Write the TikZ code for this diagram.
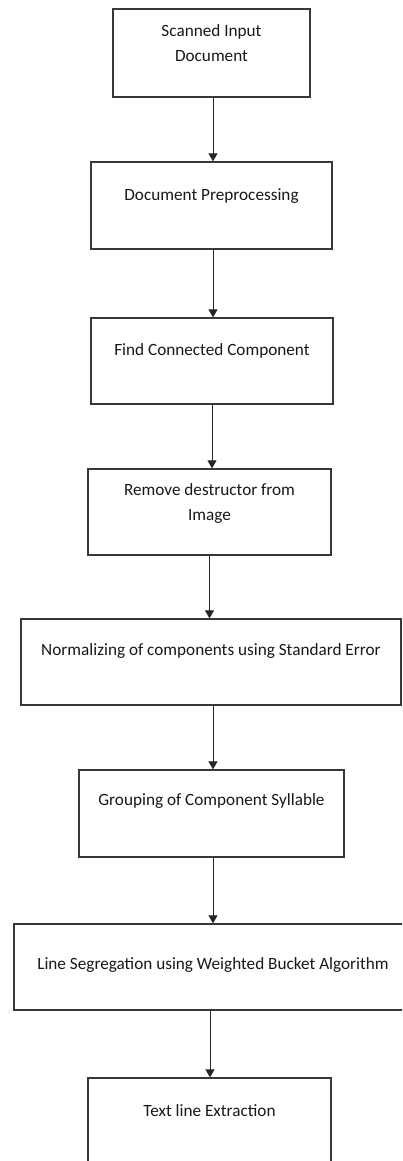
\documentclass[tikz,border=0pt]{standalone}
\usepackage{fontspec}
\setmainfont{Carlito}
\usetikzlibrary{arrows.meta}
\tikzset{
	stepbox/.style={draw=black!78, line width=1.3pt, inner sep=0pt, minimum width=#1, minimum height=86pt},
	steptext/.style={align=center, inner sep=0pt, font=\fontsize{17.2}{25}\selectfont, text=black!90},
	flow/.style={draw=black!85, line width=1pt, -{Triangle[width=9pt,length=8pt]}}
}

\begin{document}
\begin{tikzpicture}[x=1pt, y=-1pt]
		%%%%% START %%%%%
		
		\clip (0, 0) rectangle (402, 1161);
		\fill[white] (0, 0) rectangle (402, 1161);
		
		\node[stepbox=197pt, minimum height=88pt] (scan) at (211.5, 53) {};
		\node[steptext] (scan-t) at ([yshift=-35pt]scan.north) {Scanned Input\\Document};
		
		\node[stepbox=241pt, minimum height=87pt] (prep) at (211.5, 205.5) {};
		\node[steptext] (prep-t) at ([yshift=-35pt]prep.north) {Document Preprocessing};
		
		\node[stepbox=242pt] (conn) at (212, 361) {};
		\node[steptext] (conn-t) at ([yshift=-34pt]conn.north) {Find Connected Component};
		
		\node[stepbox=243pt] (dest) at (209.5, 512) {};
		\node[steptext] (dest-t) at ([yshift=-35pt]dest.north) {Remove destructor from\\Image};
		
		\node[stepbox=380pt] (norm) at (211, 662) {};
		\node[steptext] (norm-t) at ([yshift=-33pt]norm.north) {Normalizing of components using Standard Error};
		
		\node[stepbox=265pt, minimum height=87pt] (group) at (211.5, 813.5) {};
		\node[steptext] (group-t) at ([yshift=-32pt]group.north) {Grouping of Component Syllable};
		
		\node[stepbox=398pt] (seg) at (213, 967) {};
		\node[steptext] (seg-t) at ([yshift=-42pt]seg.north) {Line Segregation using Weighted Bucket Algorithm};
		
		\node[stepbox=243pt] (ext) at (209.5, 1121) {};
		\node[steptext] (ext-t) at ([yshift=-33pt]ext.north) {Text line Extraction};
		
		\draw[flow] ([xshift=1.5pt]scan.south) -- ([xshift=1.5pt]scan.south |- prep.north);
		\draw[flow] ([xshift=1.5pt]prep.south) -- ([xshift=1.5pt]prep.south |- conn.north);
		\draw[flow] (conn.south) -- (conn.south |- dest.north);
		\draw[flow] (dest.south) -- (dest.south |- norm.north);
		\draw[flow] ([xshift=2pt]norm.south) -- ([xshift=2pt]norm.south |- group.north);
		\draw[flow] ([xshift=1.5pt]group.south) -- ([xshift=1.5pt]group.south |- seg.north);
		\draw[flow] ([xshift=-3pt]seg.south) -- ([xshift=-3pt]seg.south |- ext.north);
		
		%%%%% END %%%%%
	\end{tikzpicture}
\end{document}
